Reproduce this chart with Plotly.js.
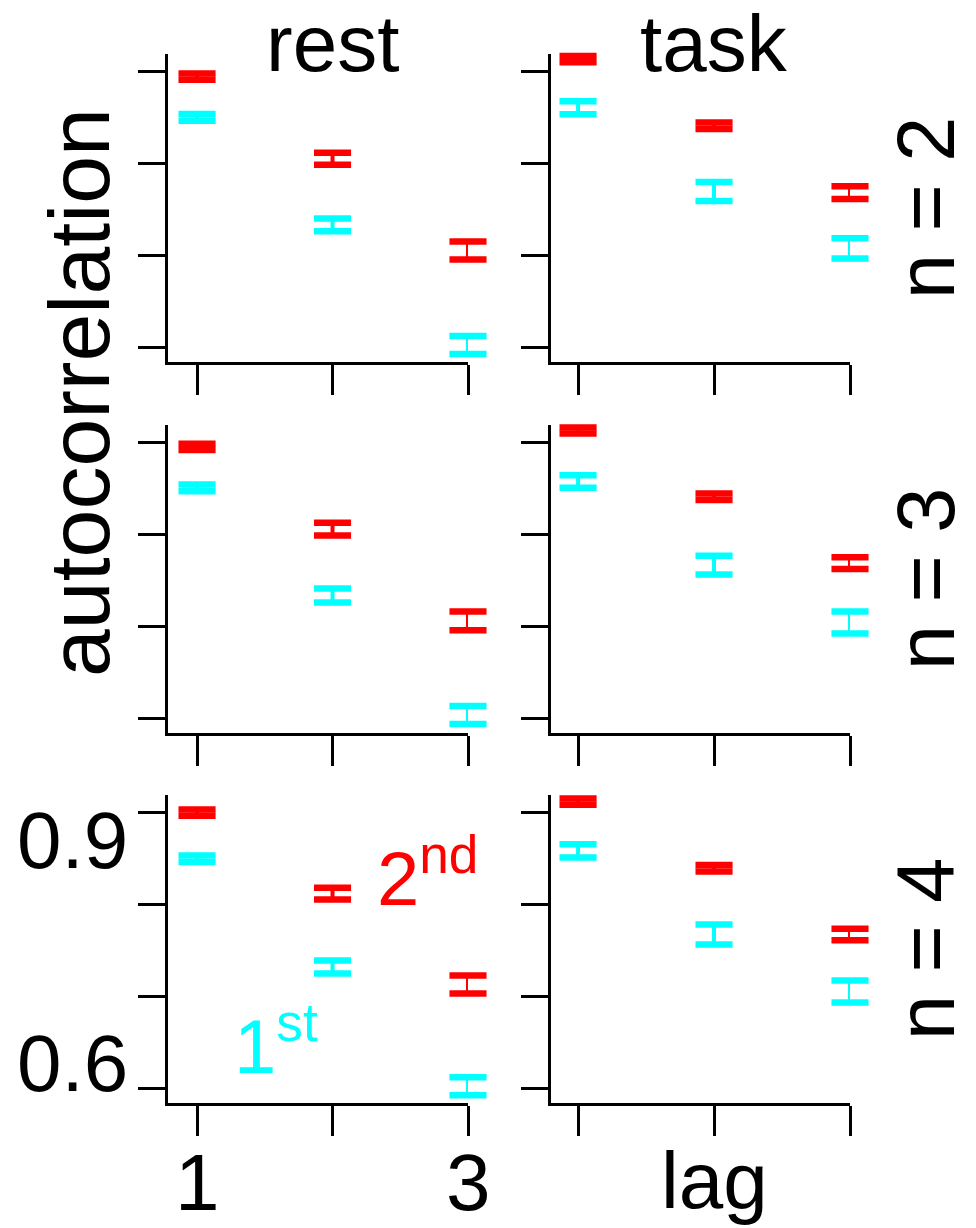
<!DOCTYPE html>
<html><head><meta charset="utf-8">
<script src="https://cdn.plot.ly/plotly-3.0.1.min.js"></script>
<style>html,body{margin:0;padding:0;background:#fff}#chart{width:976px;height:1228px}</style>
</head><body><div id="chart"></div>
<script>
// ---- data ----
const lags = [1, 2, 3];
const yTicks = [0.6, 0.7, 0.8, 0.9];
const xTickText = ['1', '3'];
const yTickText = ['0.6', '0.9'];
const colTitles = ['rest', 'task'];
const rowTitles = ['n = 2', 'n = 3', 'n = 4'];

// 1st-order (cyan) and 2nd-order (red) autocorrelation, mean and error half-width
const rest_n2_first  = [0.8505, 0.7332, 0.6022];
const rest_n2_firstE = [0.0036, 0.0070, 0.0098];
const rest_n2_second = [0.8950, 0.8054, 0.7054];
const rest_n2_secondE= [0.0034, 0.0065, 0.0098];
const task_n2_first  = [0.8610, 0.7696, 0.7076];
const task_n2_firstE = [0.0070, 0.0103, 0.0110];
const task_n2_second = [0.9140, 0.8413, 0.7685];
const task_n2_secondE= [0.0034, 0.0036, 0.0070];

const rest_n3_first  = [0.8510, 0.7337, 0.6033];
const rest_n3_firstE = [0.0036, 0.0076, 0.0098];
const rest_n3_second = [0.8957, 0.8060, 0.7060];
const rest_n3_secondE= [0.0034, 0.0070, 0.0103];
const task_n3_first  = [0.8580, 0.7668, 0.7043];
const task_n3_firstE = [0.0068, 0.0103, 0.0120];
const task_n3_second = [0.9136, 0.8413, 0.7690];
const task_n3_secondE= [0.0034, 0.0036, 0.0065];

const rest_n4_first  = [0.8500, 0.7320, 0.6020];
const rest_n4_firstE = [0.0036, 0.0070, 0.0098];
const rest_n4_second = [0.9005, 0.8120, 0.7130];
const rest_n4_secondE= [0.0034, 0.0065, 0.0098];
const task_n4_first  = [0.8587, 0.7674, 0.7054];
const task_n4_firstE = [0.0072, 0.0109, 0.0120];
const task_n4_second = [0.9125, 0.8397, 0.7674];
const task_n4_secondE= [0.0034, 0.0036, 0.0062];

// ---- styling / layout ----
const W = 976, H = 1228;
const CYAN = '#00ffff', RED = '#ff0000';
const FONT = 'Liberation Sans, Arial, Helvetica, sans-serif';
const px = x => x / W;
const py = y => 1 - y / H;

const yRange = [0.5837, 0.9196];
const colRange = [[0.782, 3], [0.801, 3]];
const colDomPx = [[167.5, 468], [551, 850]];
const rowDomPx = [[54, 362], [425, 733], [795, 1103]];

const panels = [
  [rest_n2_first, rest_n2_firstE, rest_n2_second, rest_n2_secondE],
  [task_n2_first, task_n2_firstE, task_n2_second, task_n2_secondE],
  [rest_n3_first, rest_n3_firstE, rest_n3_second, rest_n3_secondE],
  [task_n3_first, task_n3_firstE, task_n3_second, task_n3_secondE],
  [rest_n4_first, rest_n4_firstE, rest_n4_second, rest_n4_secondE],
  [task_n4_first, task_n4_firstE, task_n4_second, task_n4_secondE]
];

function seriesTraces(xa, ya, vals, errs, color) {
  const lo = vals.map((v, i) => v - errs[i]);
  const hi = vals.map((v, i) => v + errs[i]);
  return [
    { type: 'scatter', mode: 'markers', x: lags, y: vals, xaxis: xa, yaxis: ya,
      cliponaxis: false, marker: { size: 1, opacity: 0 }, hoverinfo: 'skip', showlegend: false,
      error_y: { type: 'data', array: errs, visible: true, width: 0, thickness: 4, color: color } },
    { type: 'scatter', mode: 'markers', x: lags.concat(lags), y: lo.concat(hi), xaxis: xa, yaxis: ya,
      cliponaxis: false, hoverinfo: 'skip', showlegend: false,
      marker: { symbol: 'line-ew', size: 26.5, color: color, line: { width: 6.5, color: color } } }
  ];
}

const data = [];
const layout = {
  width: W, height: H, margin: { l: 0, r: 0, t: 0, b: 0 },
  paper_bgcolor: '#fff', plot_bgcolor: '#fff', showlegend: false,
  font: { family: FONT, color: '#000' },
  annotations: []
};

panels.forEach((p, k) => {
  const r = Math.floor(k / 2), c = k % 2;
  const n = k + 1;
  const xa = n === 1 ? 'x' : 'x' + n;
  const ya = n === 1 ? 'y' : 'y' + n;
  data.push(...seriesTraces(xa, ya, p[0], p[1], CYAN));
  data.push(...seriesTraces(xa, ya, p[2], p[3], RED));
  layout['xaxis' + (n === 1 ? '' : n)] = {
    domain: [px(colDomPx[c][0]), px(colDomPx[c][1])], range: colRange[c], anchor: ya,
    tickvals: lags, showticklabels: false,
    ticks: 'outside', ticklen: 30, tickwidth: 3, tickcolor: '#000',
    showline: true, linewidth: 3, linecolor: '#000',
    showgrid: false, zeroline: false, fixedrange: true
  };
  layout['yaxis' + (n === 1 ? '' : n)] = {
    domain: [py(rowDomPx[r][1]), py(rowDomPx[r][0])], range: yRange, anchor: xa,
    tickvals: yTicks, showticklabels: false,
    ticks: 'outside', ticklen: 27, tickwidth: 3, tickcolor: '#000',
    showline: true, linewidth: 3, linecolor: '#000',
    showgrid: false, zeroline: false, fixedrange: true
  };
});

const ann = layout.annotations;
const big = (size, color) => ({ size: size, family: FONT, color: color || '#000' });
// column titles
ann.push({ text: colTitles[0], xref: 'x', yref: 'paper', x: 2, y: py(43), xanchor: 'center', yanchor: 'middle',
  showarrow: false, font: big(80) });
ann.push({ text: colTitles[1], xref: 'x2', yref: 'paper', x: 2, y: py(43), xanchor: 'center', yanchor: 'middle',
  showarrow: false, font: big(80) });
// row titles
rowTitles.forEach((t, r) => {
  ann.push({ text: t, xref: 'paper', yref: 'paper', x: px(926), y: py((rowDomPx[r][0] + rowDomPx[r][1]) / 2),
    xanchor: 'center', yanchor: 'middle', textangle: -90, showarrow: false, font: big(81) });
});
// y axis title
ann.push({ text: 'autocorrelation', xref: 'paper', yref: 'paper', x: px(79), y: py(393),
  xanchor: 'center', yanchor: 'middle', textangle: -90, showarrow: false, font: big(86) });
// y tick labels (bottom-left panel)
ann.push({ text: yTickText[1], xref: 'paper', yref: 'y5', x: px(130), y: yTicks[3], yshift: -28,
  xanchor: 'right', yanchor: 'middle', showarrow: false, font: big(80) });
ann.push({ text: yTickText[0], xref: 'paper', yref: 'y5', x: px(130), y: yTicks[0], yshift: 25,
  xanchor: 'right', yanchor: 'middle', showarrow: false, font: big(80) });
// x tick labels (bottom-left panel)
ann.push({ text: xTickText[0], xref: 'x5', yref: 'paper', x: lags[0], y: py(1182), xanchor: 'center', yanchor: 'middle',
  showarrow: false, font: big(80) });
ann.push({ text: xTickText[1], xref: 'x5', yref: 'paper', x: lags[2], y: py(1182), xanchor: 'center', yanchor: 'middle',
  showarrow: false, font: big(80) });
// x axis title
ann.push({ text: 'lag', xref: 'x6', yref: 'paper', x: 2, y: py(1180), xanchor: 'center', yanchor: 'middle',
  showarrow: false, font: big(80) });
// series labels
ann.push({ text: '2<sup>nd</sup>', xref: 'x5', yref: 'y5', x: 2.31, y: 0.835, xanchor: 'left', yanchor: 'middle',
  showarrow: false, font: big(76, RED) });
ann.push({ text: '1<sup>st</sup>', xref: 'x5', yref: 'y5', x: 1.26, y: 0.651, xanchor: 'left', yanchor: 'middle',
  showarrow: false, font: big(76, CYAN) });

Plotly.newPlot('chart', data, layout, { staticPlot: true, displayModeBar: false });
</script>
</body></html>
